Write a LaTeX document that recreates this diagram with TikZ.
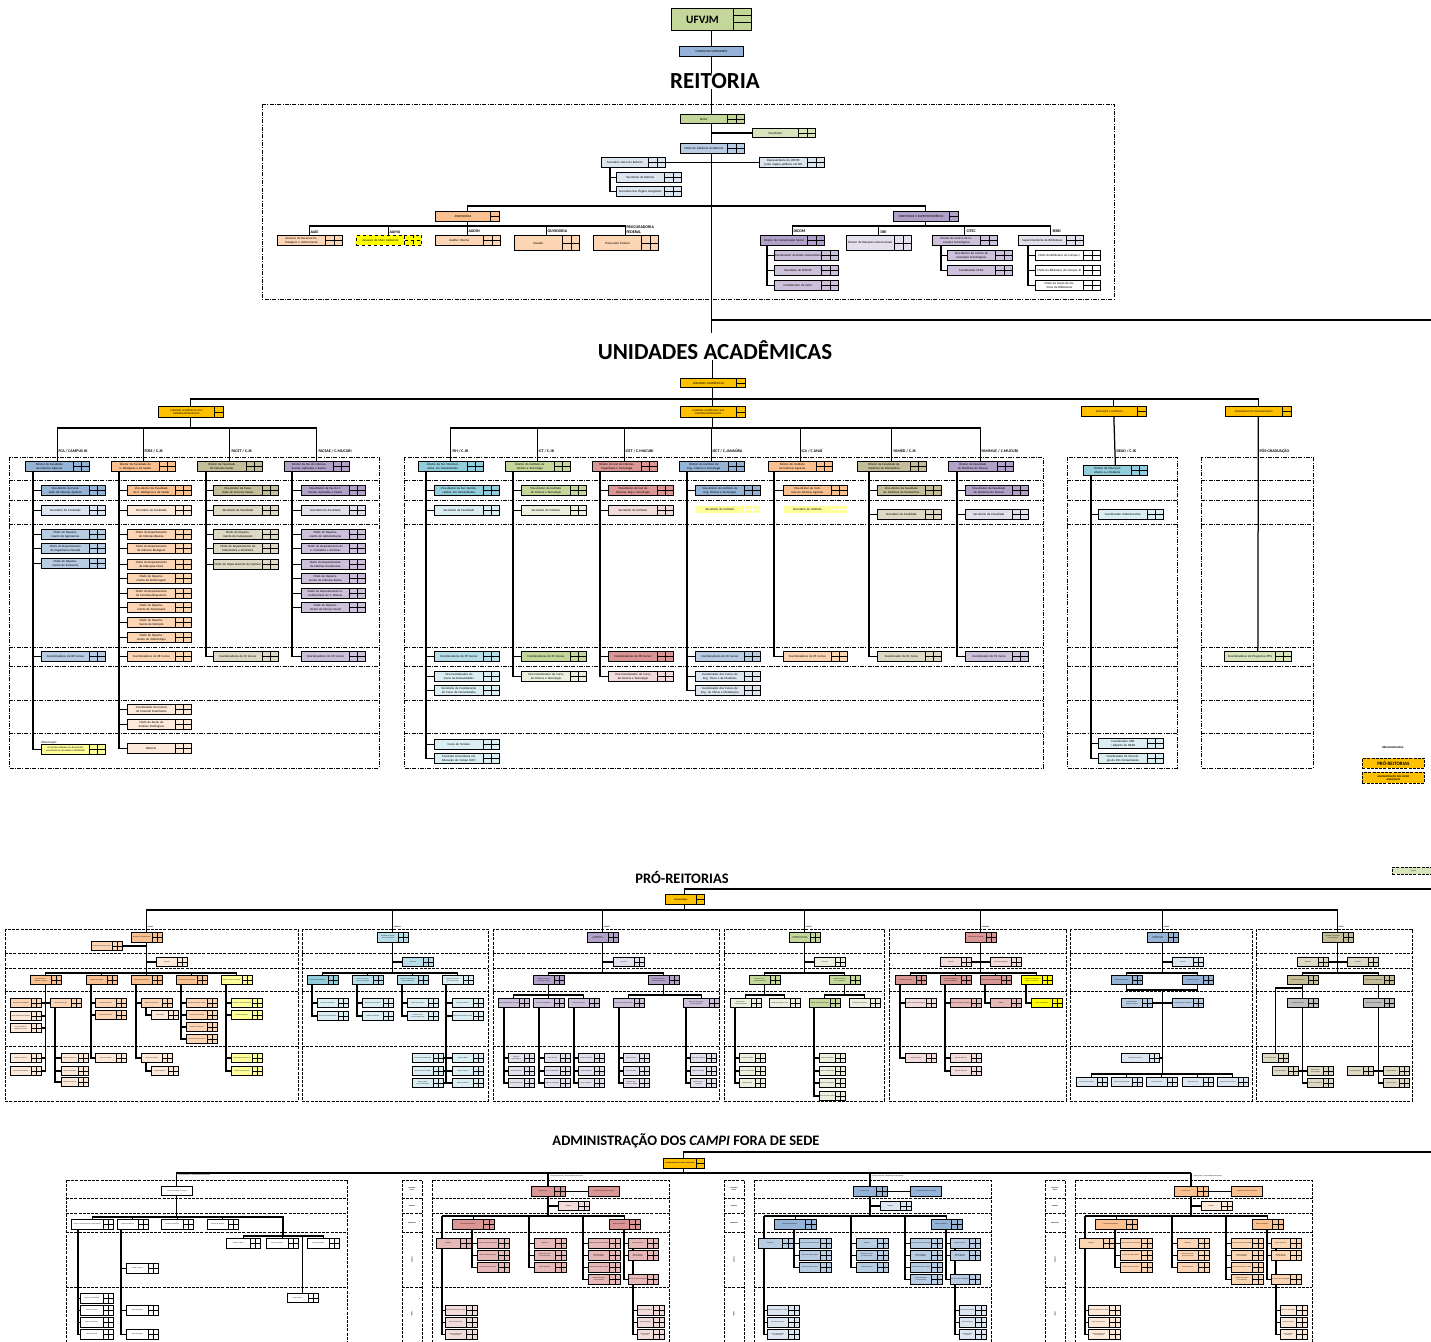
\documentclass[tikz,border=0pt]{standalone}
\usepackage{fontspec}
\setmainfont{Carlito}
\usetikzlibrary{calc}
\pgfdeclarelayer{bg}
\pgfsetlayers{bg,main}
\definecolor{gold}{HTML}{FFC000}
\definecolor{blue1}{HTML}{95B3D7}
\definecolor{blue2}{HTML}{B8CCE4}
\definecolor{blue3}{HTML}{DCE6F1}
\definecolor{org1}{HTML}{FAC090}
\definecolor{org2}{HTML}{FCD5B4}
\definecolor{org3}{HTML}{FDE9D9}
\definecolor{oli1}{HTML}{C4BD97}
\definecolor{oli2}{HTML}{DDD9C4}
\definecolor{pur1}{HTML}{B1A0C7}
\definecolor{pur2}{HTML}{CCC0DA}
\definecolor{pur3}{HTML}{E4DFEC}
\definecolor{tur1}{HTML}{92CDDC}
\definecolor{tur2}{HTML}{B7DEE8}
\definecolor{tur3}{HTML}{DAEEF3}
\definecolor{grn1}{HTML}{C4D79B}
\definecolor{grn2}{HTML}{D8E4BC}
\definecolor{grn3}{HTML}{EBF1DE}
\definecolor{red1}{HTML}{DA9694}
\definecolor{red2}{HTML}{E6B8B7}
\definecolor{red3}{HTML}{F2DCDB}
\definecolor{yel1}{HTML}{FFFF99}
\definecolor{yel2}{HTML}{FFFF00}
\definecolor{gry1}{HTML}{BFBFBF}
\def\FS{\fontsize{3.1}{3.6}\selectfont}
\def\GW{16}
\def\GO{9}
\tikzset{
 bx/.style={draw,line width=0.9pt,inner xsep=0.4pt,inner ysep=0.2pt,align=center,font=\FS},
 gl/.style={line width=0.7pt},
 cn/.style={line width=1.25pt},
 dd/.style={line width=0.9pt,dash pattern=on 4pt off 1.3pt on 1pt off 1.3pt},
 dsh/.style={line width=0.8pt,dash pattern=on 3pt off 1.2pt},
 lbl/.style={font=\bfseries\fontsize{4}{4.4}\selectfont,inner sep=0.3pt,align=left},
 ttl/.style={font=\bfseries\fontsize{23}{25}\selectfont,inner sep=0pt},
 ttm/.style={font=\bfseries\fontsize{14.5}{16}\selectfont,inner sep=0pt},
 sl/.style={font=\bfseries\fontsize{1.5}{1.8}\selectfont,inner sep=0.2pt,align=center},
 tl/.style={font=\fontsize{1.5}{1.8}\selectfont,inner sep=0.2pt,anchor=south west},
 pl/.style={font=\bfseries\fontsize{1.7}{2}\selectfont,inner sep=0.2pt,anchor=south west},
}
\newcommand\allc{}
\newcommand\Cn[1]{\xdef\allc{\unexpanded\expandafter{\allc}\unexpanded{\draw[cn]}#1;}}
\newcommand\Bx[7][]{%
 \node[bx,fill=#6,minimum width=#4pt,minimum height=#5pt,text width=#4pt,anchor=north west,#1] (#2) at (#3) {#7};
 \draw[bx,fill=#6,#1] (#2.north east) rectangle ([xshift=\GW]#2.south east);
 \draw[gl,#1] ([xshift=\GW/2]#2.north east) -- ([xshift=\GW/2]#2.south east) (#2.east) -- ([xshift=\GW]#2.east);
 \path ([xshift=\GW/2]#2.north) coordinate (#2T) ([xshift=\GW/2]#2.south) coordinate (#2B) ([xshift=\GW]#2.east) coordinate (#2R);}
\newcommand\Bo[7][]{%
 \node[bx,fill=#6,minimum width=#4pt,minimum height=#5pt,text width=#4pt,anchor=north west,#1] (#2) at (#3) {#7};
 \draw[bx,fill=#6,#1] (#2.north east) rectangle ([xshift=\GO]#2.south east);
 \draw[gl,#1] (#2.east) -- ([xshift=\GO]#2.east);
 \path ([xshift=\GO/2]#2.north) coordinate (#2T) ([xshift=\GO/2]#2.south) coordinate (#2B);}
\newcommand\Sb[5][]{\Bx[#1]{#2}{#3}{20}{9}{#4}{#5}}
\newcommand\Ub[4]{\Bx{#1}{#2}{47}{10}{#3}{#4}}
\newcommand\Tr[3]{\Cn{([xshift=#2]#1.south west) |- (#3.west)}}
\newcommand\Dw[2]{\Cn{(#1T) -- (#1T |- 0,#2)}}
\newcommand\Br[3]{\Cn{(#2T) -- (#2T |- 0,#1) -- (#3T |- 0,#1) -- (#3T)}}
\newcommand\Camp[5]{%
 \draw[dsh] (402,1180) rectangle (422,1342);
 \draw[dsh] (432,1180) rectangle (669,1342);
 \foreach \yy in {1198,1213,1232,1287}{\draw[dsh] (402,\yy) -- (422,\yy); \draw[dsh] (432,\yy) -- (669,\yy);}
 \node[sl] (#1l1) at (412,1189) {DIRETORIA\\GERAL};
 \node[sl] (#1l2) at (412,1205.5) {GABINETE};
 \node[sl] (#1l3) at (412,1222.5) {DIRETORIAS};
 \node[sl,rotate=90] (#1l4) at (412,1260) {DIVISÕES};
 \node[sl,rotate=90] (#1l5) at (412,1314) {SEÇÕES};
 \node[tl] (#1tl) at (550,1176.5) {#5};
 \coordinate (#1k) at (548,1173);
 \def\GW{11}
 \Bx{#1dg}{531,1186}{22}{10}{#2}{Diretor Geral}
 \node[bx,fill=#2,minimum width=31pt,minimum height=10pt,text width=30pt,anchor=north west] (#1cc) at (588,1186) {Conselho Consultivo do Campus};
 \Cn{(#1dgR) -- (#1cc.west)}
 \Bx{#1gb}{558,1201}{19}{9}{#4}{Gabinete}
 \Cn{(#1k) -- (#1k |- 0,1216)}
 \Cn{(#1gb.west) -- (#1gb.west -| #1k)}
 \Bx{#1d1}{452,1219}{30}{10}{#2}{Diretoria Administrativa}
 \Bx{#1d2}{609,1219}{19}{10}{#2}{Diretoria Acadêmica}
 \coordinate (#1bl) at (442,1216);
 \Cn{(#1bl) -- (#1d2T |- 0,1216)}
 \Dw{#1d1}{1216} \Dw{#1d2}{1216}
 \Bx{#1a1}{436,1238}{23}{10}{#3}{Prefeitura}
 \Cn{(#1bl) -- (#1bl |- #1a1.north)}
 \Bx{#1b1}{477,1238}{20}{10}{#3}{Divisão de Gestão de Pessoas}
 \Bx{#1b2}{477,1250}{20}{10}{#3}{Divisão de Apoio Logístico}
 \Bx{#1b3}{477,1262}{20}{10}{#3}{Divisão de Serviços Gerais}
 \Tr{#1d1}{20}{#1b1} \Tr{#1d1}{20}{#1b2} \Tr{#1d1}{20}{#1b3}
 \coordinate (#1cx) at (529,1216);
 \Bx{#1c1}{534,1238}{20}{10}{#3}{Biblioteca}
 \Bx{#1c2}{534,1250}{20}{10}{#3}{Divisão de Tecnologia da Informação}
 \Bx{#1c3}{534,1262}{20}{10}{#3}{Divisão Financeira}
 \Cn{(#1cx) |- (#1c1.west)} \Cn{(#1cx) |- (#1c2.west)} \Cn{(#1cx) |- (#1c3.west)}
 \coordinate (#1dx) at (583,1216);
 \Bx{#1e1}{588,1238}{20}{10}{#3}{Divisão de Assuntos Estudantis}
 \Bx{#1e2}{588,1250}{20}{10}{#3}{Divisão de Assuntos Comunitários}
 \Bx{#1e3}{588,1262}{20}{10}{#3}{Divisão de Extensão e Cultura}
 \Bx{#1e4}{588,1274}{20}{10}{#3}{Divisão de Pesquisa e Pós-Graduação}
 \Cn{(#1dx) |- (#1e1.west)} \Cn{(#1dx) |- (#1e2.west)} \Cn{(#1dx) |- (#1e3.west)} \Cn{(#1dx) |- (#1e4.west)}
 \Bx{#1g1}{628,1238}{18}{10}{#3}{Divisão de Ensino}
 \Bx{#1g2}{628,1250}{18}{10}{#3}{Divisão de Registro Acadêmico}
 \Bx{#1g3}{628,1274}{18}{10}{#3}{Divisão de Apoio Pedagógico}
 \Tr{#1d2}{15}{#1g1} \Tr{#1d2}{15}{#1g2} \Tr{#1d2}{15}{#1g3}
 \Bx{#1f1}{445,1305}{20}{10}{#4}{Seção de Manutenção e Obras}
 \Bx{#1f2}{445,1317}{20}{10}{#4}{Seção de Transportes}
 \Bx{#1f3}{445,1329}{20}{10}{#4}{Seção de Patrimônio e Almoxarifado}
 \Tr{#1a1}{6}{#1f1} \Tr{#1a1}{6}{#1f2} \Tr{#1a1}{6}{#1f3}
 \Bx{#1h1}{637,1305}{15}{10}{#4}{Seção de Laboratórios}
 \Bx{#1h2}{637,1317}{15}{10}{#4}{Seção de Estágios}
 \Bx{#1h3}{637,1329}{15}{10}{#4}{Seção de Apoio ao Ensino}
 \Tr{#1g1}{5}{#1h1} \Tr{#1g1}{5}{#1h2} \Tr{#1g1}{5}{#1h3}
}
\begin{document}
\begin{tikzpicture}[x=1pt,y=-1pt]
\useasboundingbox (0,0) rectangle (1431,1341);
% ================= TOP =================
\node[bx,fill=grn1,minimum width=62pt,minimum height=22pt,anchor=north west,font=\bfseries\fontsize{11.3}{12}\selectfont] (ufvjm) at (671,8) {UFVJM};
\draw[bx,fill=grn1] (ufvjm.north east) rectangle ([xshift=18]ufvjm.south east);
\draw[gl] ([yshift=-7.4]ufvjm.north east) -- ([yshift=-7.4,xshift=18]ufvjm.north east) ([yshift=-14.8]ufvjm.north east) -- ([yshift=-14.8,xshift=18]ufvjm.north east);
\path ([xshift=9]ufvjm.south) coordinate (ufvjmB);
\node[bx,fill=blue1,minimum width=64pt,minimum height=10pt,anchor=north west] (cons) at (679,46) {CONSELHOS SUPERIORES};
\Cn{(ufvjmB) -- (ufvjmB |- cons.north)}
\node[ttl] (reit) at (715,81) {REITORIA};
\Cn{(cons.south) -- (cons.south |- reit.north)}
\coordinate (uaA) at (711.4,333);
\coordinate (rr1) at (1431,320);
\Cn{(uaA |- reit.south) -- (uaA)}
\Cn{(uaA |- rr1) -- (rr1)}
\draw[dd] (262,104) rectangle (1114,299);
\def\GW{17}
\Bx{reitor}{680,114}{46}{9}{grn1}{Reitor}
\Bx{vice}{752,128}{45}{9}{grn2}{Vice-Reitor}
\Cn{(vice.west) -- (vice.west -| uaA)}
\Bx{chg}{680,143}{46}{10}{blue2}{Chefe do Gabinete da Reitoria}
\Bx{secg}{601,157}{46}{10}{blue3}{Secretário Geral da Reitoria}
\Bx{rep}{759,157}{47}{10}{blue3}{Representante da UFVJM junto órgãos públicos em BH}
\Cn{(secgR) -- (rep.west)}
\Bx{secr}{616,172}{47}{10}{blue3}{Secretário da Reitoria}
\Bx{seco}{616,186}{47}{10}{blue3}{Secretaria dos Órgãos Colegiados}
\Tr{secg}{9}{secr} \Tr{secg}{9}{seco}
\Bo{ass}{435,211}{54}{10}{org1}{ASSESSORIAS}
\Bo{dirs}{893,211}{55}{10}{pur1}{DIRETORIAS E SUPERINTENDÊNCIA}
\Cn{(assT) -- (assT |- 0,206) -- (dirsT |- 0,206) -- (dirsT)}
\Bx{aaei}{277,235}{47}{10}{org2}{Assessor de Recursos Estratégicos e Institucionais}
\Bx[dashed]{aama}{356,235}{47}{10}{yel2}{Assessor de Meio Ambiente}
\Bx{audin}{435,235}{47}{10}{org2}{Auditor Interno}
\Bx{ouv}{514,235}{47}{15}{org2}{Ouvidor}
\Bx{proc}{593,235}{47}{15}{org2}{Procurador Federal}
\Cn{(assB) -- (assB |- 0,226)}
\Br{226}{aaei}{proc} \Dw{aama}{226} \Dw{audin}{226} \Dw{ouv}{226}
\node[lbl,anchor=south west] (laaei) at (310,233.5) {AAEI};
\node[lbl,anchor=south west] (laama) at (389,233.5) {AAMA};
\node[lbl,anchor=south west] (laudin) at (468,233.5) {AUDIN};
\node[lbl,anchor=south west] (louv) at (547,233.5) {OUVIDORIA};
\node[lbl,anchor=south west] (lproc) at (626,233.5) {PROCURADORIA\\FEDERAL};
\Bx{dicom}{760,235}{46}{10}{pur1}{Diretor de Comunicação Social}
\Bx{dri}{846,235}{47}{15}{pur3}{Diretor de Relações Internacionais}
\Bx{citec}{932,235}{47}{10}{pur2}{Diretor do Centro de Inovações Tecnológicas}
\Bx{sisbi}{1018,235}{47}{10}{pur3}{Superintendente de Bibliotecas}
\Cn{(dirsB) -- (dirsB |- 0,226)}
\Br{226}{dicom}{sisbi} \Dw{dri}{226} \Dw{citec}{226}
\node[lbl,anchor=south west] (ldicom) at (793,233.5) {DICOM};
\node[lbl,anchor=south west] (ldri) at (880,233.5) {DRI};
\node[lbl,anchor=south west] (lcitec) at (966,233.5) {CITEC};
\node[lbl,anchor=south west] (lsisbi) at (1052,233.5) {SISBI};
\Bx{dc1}{774,250}{46}{10}{pur2}{Coordenador da Rádio Universitária}
\Bx{dc2}{774,265}{46}{10}{pur2}{Secretário do DICOM}
\Bx{dc3}{774,280}{46}{10}{pur2}{Coordenador de Setor}
\Tr{dicom}{7}{dc1} \Tr{dicom}{7}{dc2} \Tr{dicom}{7}{dc3}
\Bx{ci1}{947,250}{47}{10}{pur2}{Vice-Diretor do Centro de Inovações Tecnológicas}
\Bx{ci2}{947,265}{47}{10}{pur2}{Coordenador NITec}
\Tr{citec}{9}{ci1} \Tr{citec}{9}{ci2}
\Bx{sb1}{1035,250}{47}{10}{white}{Chefe da Biblioteca do Campus I}
\Bx{sb2}{1035,265}{47}{10}{white}{Chefe da Biblioteca do Campus JK}
\Bx{sb3}{1035,280}{47}{10}{white}{Chefe da Seção de Sistema de Bibliotecas}
\Tr{sisbi}{10}{sb1} \Tr{sisbi}{10}{sb2} \Tr{sisbi}{10}{sb3}
% ================= UNIDADES =================
\node[ttl] (uat) at (715,350) {UNIDADES ACADÊMICAS};
\Bo{ua}{680,378}{55}{9}{gold}{UNIDADES ACADÊMICAS}
\Cn{(uaT |- uat.south) -- (uaT)}
\Bo[font=\fontsize{2.6}{3}\selectfont]{com}{158,406}{55}{11}{gold}{UNIDADES ACADÊMICAS COM DEPARTAMENTALIZAÇÃO}
\Bo[font=\fontsize{2.6}{3}\selectfont]{sem}{680,406}{55}{11}{gold}{UNIDADES ACADÊMICAS SEM DEPARTAMENTALIZAÇÃO}
\Bo[font=\fontsize{2.6}{3}\selectfont]{ead}{1081,406}{55}{10}{gold}{EDUCAÇÃO A DISTÂNCIA}
\Bo[font=\fontsize{2.6}{3}\selectfont]{pos}{1225,406}{56}{10}{gold}{PROGRAMAS DE PÓS-GRADUAÇÃO}
\Cn{(uaB) -- (semT)}
\Br{399}{com}{pos} \Dw{ead}{399}
\draw[dd] (9,457) rectangle (379,768);
\draw[dd] (404,457) rectangle (1043,768);
\draw[dd] (1067,457) rectangle (1177,768);
\draw[dd] (1201,457) rectangle (1313,768);
\foreach \yy in {480,500,524,647,666,700,733}{
 \draw[dd] (9,\yy) -- (379,\yy); \draw[dd] (404,\yy) -- (1043,\yy);
 \draw[dd] (1067,\yy) -- (1177,\yy); \draw[dd] (1201,\yy) -- (1313,\yy);}
\def\GW{16}
\Bx{fca}{25,461}{47}{10}{blue1}{Diretor da Faculdade de Ciências Agrárias}
\Bx{fcbs}{111,461}{47}{10}{org1}{Diretor da Faculdade de C. Biológicas e da Saúde}
\Bx{facet}{197,461}{48}{10}{oli1}{Diretor da Faculdade de Ciências Exatas}
\Bx{facsae}{284,461}{48}{10}{pur1}{Diretor da Fac de Ciências Sociais, Aplicadas e Exatas}
\Cn{(comB) -- (comB |- 0,428)}
\Br{428}{fca}{facsae} \Dw{fcbs}{428} \Dw{facet}{428}
\node[lbl,anchor=south west] (lfca) at (58,453.5) {FCA / CAMPUS JK};
\node[lbl,anchor=south west] (lfcbs) at (144,453.5) {FCBS / C.JK};
\node[lbl,anchor=south west] (lfacet) at (231,453.5) {FACET / C.JK};
\node[lbl,anchor=south west] (lfacsae) at (318,453.5) {FACSAE / C.MUCURI};
\Ub{fca1}{41,485}{blue1}{Vice-diretor da Faculdade de Ciências Agrárias}
\Ub{fca2}{41,505}{blue3}{Secretário da Faculdade}
\Ub{fca3}{41,529}{blue2}{Chefe do Departamento de Agronomia}
\Ub{fca4}{41,543}{blue2}{Chefe do Departamento de Engenharia Florestal}
\Ub{fca5}{41,558}{blue2}{Chefe do Departamento de Zootecnia}
\Ub{fca6}{41,651}{blue2}{Coordenadores de 08 Cursos}
\Bx[font=\fontsize{2.5}{3}\selectfont]{fca7}{41,744}{47}{10}{yel1}{As funções listadas nos Escaninhos encontram-se vinculadas à PROGRAD}
\node[font=\FS,anchor=south west,inner sep=0.2pt] (obs) at (41,744) {Observação:};
\foreach \n in {1,...,7}{\Tr{fca}{8}{fca\n}}
\Ub{fcbs1}{127,485}{org1}{Vice-diretor da Faculdade de C. Biológicas e da Saúde}
\Ub{fcbs2}{127,505}{org3}{Secretário da Faculdade}
\Ub{fcbs3}{127,529}{org2}{Chefe do Departamento de Ciências Básicas}
\Ub{fcbs4}{127,543}{org2}{Chefe do Departamento de Ciências Biológicas}
\Ub{fcbs5}{127,559}{org2}{Chefe do Departamento de Educação Física}
\Ub{fcbs6}{127,573}{org2}{Chefe do Departamento de Enfermagem}
\Ub{fcbs7}{127,588}{org2}{Chefe do Departamento de Farmácia-Bioquímica}
\Ub{fcbs8}{127,602}{org2}{Chefe do Departamento de Fisioterapia}
\Ub{fcbs9}{127,617}{org2}{Chefe do Departamento de Nutrição}
\Ub{fcbs10}{127,632}{org2}{Chefe do Departamento de Odontologia}
\Ub{fcbs11}{127,651}{org2}{Coordenadores de 08 Cursos}
\Ub{fcbs12}{127,704}{org3}{Coordenador da Central de Material Esterilizado}
\Ub{fcbs13}{127,719}{org3}{Chefe da Seção de Análises Patológicas}
\Ub{fcbs14}{127,743}{org3}{Biotério}
\foreach \n in {1,...,14}{\Tr{fcbs}{8}{fcbs\n}}
\Bx{facet1}{213,485}{48}{10}{oli1}{Vice-diretor da Faculdade de Ciências Exatas}
\Bx{facet2}{213,505}{48}{10}{oli2}{Secretário da Faculdade}
\Bx{facet3}{213,529}{48}{10}{oli2}{Chefe do Departamento de Computação}
\Bx{facet4}{213,543}{48}{10}{oli2}{Chefe do Departamento de Matemática e Estatística}
\Bx{facet5}{213,559}{48}{10}{oli2}{Chefe do Departamento de Química}
\Bx{facet6}{213,651}{48}{10}{oli2}{Coordenadores de 02 Cursos}
\foreach \n in {1,...,6}{\Tr{facet}{9}{facet\n}}
\Ub{facsae1}{301,485}{pur1}{Vice-diretor da Fac de C. Sociais, Aplicadas e Exatas}
\Ub{facsae2}{301,505}{pur3}{Secretária da Faculdade}
\Ub{facsae3}{301,529}{pur2}{Chefe do Departamento de Administração}
\Ub{facsae4}{301,543}{pur2}{Chefe do Departamento de C. Contábeis e Jurídicas}
\Ub{facsae5}{301,559}{pur2}{Chefe do Departamento de Ciências Econômicas}
\Ub{facsae6}{301,573}{pur2}{Chefe do Departamento de Ciências Exatas}
\Ub{facsae7}{301,588}{pur2}{Chefe do Departamento Interdisciplinar de C. Básicas}
\Ub{facsae8}{301,602}{pur2}{Chefe do Departamento de Serviço Social}
\Ub{facsae9}{301,651}{pur2}{Coordenadores de 05 Cursos}
\foreach \n in {1,...,9}{\Tr{facsae}{8}{facsae\n}}
% middle
\Bx{fih}{418,461}{48}{10}{tur1}{Diretor da Fac Interdisciplinar em Humanidades}
\Bx{ict}{505,461}{48}{10}{grn1}{Diretor do Instituto de Ciência e Tecnologia}
\Bx{icet}{592,461}{48}{10}{red1}{Diretor do Inst de Ciências, Engenharia e Tecnologia}
\Bx{iect}{679,461}{48}{10}{blue1}{Diretor do Instituto de Eng., Ciência e Tecnologia}
\Bx{ica}{768,461}{47}{10}{org1}{Diretor do Instituto de Ciências Agrárias}
\Bx{famed}{857,461}{52}{10}{oli1}{Diretor da Faculdade de Medicina de Diamantina}
\Bx{fammuc}{948,461}{48}{10}{pur1}{Diretor da Faculdade de Medicina do Mucuri}
\Cn{(semB) -- (semB |- 0,428)}
\Br{428}{fih}{fammuc} \Dw{ict}{428} \Dw{icet}{428} \Dw{iect}{428} \Dw{ica}{428} \Dw{famed}{428}
\node[lbl,anchor=south west] (lfih) at (452,453.5) {FIH / C.JK};
\node[lbl,anchor=south west] (lict) at (538,453.5) {ICT / C.JK};
\node[lbl,anchor=south west] (licet) at (625,453.5) {ICET / C.MUCURI};
\node[lbl,anchor=south west] (liect) at (712,453.5) {IECT / C.JANAÚBA};
\node[lbl,anchor=south west] (lica) at (801,453.5) {ICA / C.UNAÍ};
\node[lbl,anchor=south west] (lfamed) at (893,453.5) {FAMED / C.JK};
\node[lbl,anchor=south west] (lfammuc) at (981,453.5) {FAMMUC / C.MUCURI};
\Bx{fih1}{434,485}{48}{10}{tur1}{Vice-diretor da Fac Interdisciplinar em Humanidades}
\Bx{fih2}{434,505}{48}{10}{tur3}{Secretário da Faculdade}
\Bx{fih3}{434,651}{48}{10}{tur2}{Coordenadores de 09 Cursos}
\Bx{fih4}{434,671}{48}{10}{tur3}{Vice-Coordenador do Curso de Humanidades}
\Bx{fih5}{434,685}{48}{10}{tur3}{Secretário da Coordenação do Curso de Humanidades}
\Bx{fih6}{434,739}{48}{10}{tur3}{Curso de Turismo}
\Bx{fih7}{434,753}{48}{10}{tur3}{Comissão Licenciatura em Educação do Campo (LEC)}
\foreach \n in {1,...,7}{\Tr{fih}{8}{fih\n}}
\Bx{ict1}{521,485}{48}{10}{grn1}{Vice-diretor do Instituto de Ciência e Tecnologia}
\Bx{ict2}{521,505}{48}{10}{grn3}{Secretário do Instituto}
\Bx{ict3}{521,651}{48}{10}{grn1}{Coordenadores de 05 Cursos}
\Bx{ict4}{521,671}{48}{10}{grn3}{Vice-Coordenador do Curso de Ciência e Tecnologia}
\foreach \n in {1,...,4}{\Tr{ict}{8}{ict\n}}
\Bx{icet1}{608,485}{48}{10}{red1}{Vice-diretor do Inst de Ciências, Eng e Tecnologia}
\Bx{icet2}{608,505}{48}{10}{red3}{Secretário do Instituto}
\Bx{icet3}{608,651}{48}{10}{red1}{Coordenadores de 08 Cursos}
\Bx{icet4}{608,671}{48}{10}{red3}{Vice-Coordenador do Curso de Ciência e Tecnologia}
\foreach \n in {1,...,4}{\Tr{icet}{8}{icet\n}}
\Bx{iect1}{695,485}{48}{10}{blue1}{Vice-diretor do Instituto de Eng, Ciência e Tecnologia}
\Bx[draw=white]{iect2}{695,505}{48}{8}{yel1}{Secretário do Instituto}
\Bx{iect3}{695,651}{48}{10}{blue2}{Coordenadores de 06 Cursos}
\Bx{iect4}{695,671}{48}{10}{blue3}{Coordenador dos Cursos de Eng. Física e de Materiais}
\Bx{iect5}{695,685}{48}{10}{blue3}{Coordenador dos Cursos de Eng. de Minas e Metalúrgica}
\foreach \n in {1,3,4,5}{\Tr{iect}{8}{iect\n}}
\Bx{ica1}{783,485}{47}{10}{org1}{Vice-diretor do Instituto de Ciências Agrárias}
\Bx[draw=white]{ica2}{783,505}{47}{8}{yel1}{Secretário do Instituto}
\Bx{ica3}{783,651}{47}{10}{org2}{Coordenadores de 05 Cursos}
\Tr{ica}{6}{ica1} \Tr{ica}{6}{ica3}
\Bx{famed1}{877,485}{47}{10}{oli1}{Vice-diretor da Faculdade de Medicina de Diamantina}
\Bx{famed2}{877,509}{47}{10}{oli2}{Secretário da Faculdade}
\Bx{famed3}{877,651}{47}{10}{oli2}{Coordenador de 01 Curso}
\foreach \n in {1,2,3}{\Tr{famed}{12}{famed\n}}
\Bx{fammuc1}{965,485}{46}{10}{pur1}{Vice-diretor da Faculdade de Medicina do Mucuri}
\Bx{fammuc2}{965,509}{46}{10}{pur3}{Secretário da Faculdade}
\Bx{fammuc3}{965,651}{46}{10}{pur2}{Coordenador de 01 Curso}
\foreach \n in {1,2,3}{\Tr{fammuc}{9}{fammuc\n}}
% EAD and PPG
\Bx{dead}{1083,465}{47}{10}{tur1}{Diretor de Educação Aberta e a Distância}
\Cn{(eadB) -- (deadT)}
\node[lbl,anchor=south west] (ldead) at (1116,453.5) {DEAD / C.JK};
\Bx{dead1}{1098,509}{48}{10}{tur3}{Coordenador Administrativo}
\Bx{dead2}{1098,738}{48}{10}{tur3}{Coordenador UAB / Adjunto do DEAD}
\Bx{dead3}{1098,753}{48}{10}{tur3}{Coordenador de Tecnologia da Info Comunicação}
\foreach \n in {1,2,3}{\Tr{dead}{8}{dead\n}}
\Bx{ppg}{1224,651}{50}{10}{grn2}{Coordenadores de Programas PPG}
\Cn{(posB) -- (ppgT)}
\node[lbl,anchor=south west] (lpos) at (1259,453.5) {PÓS-GRADUAÇÃO};
% legend
\node[lbl,font=\bfseries\fontsize{2.8}{3.2}\selectfont] (orgl) at (1393,748) {ORGANOGRAMAS:};
\node[draw,dsh,fill=gold,minimum width=62pt,minimum height=10pt,anchor=north west,inner sep=0pt,font=\bfseries\fontsize{5}{5.5}\selectfont] (lg1) at (1362,758) {PRÓ-REITORIAS};
\node[draw,dsh,fill=gold,minimum width=62pt,minimum height=11pt,anchor=north west,inner sep=0pt,align=center,font=\bfseries\fontsize{2.6}{3}\selectfont] (lg2) at (1362,772) {ADMINISTRAÇÃO DOS CAMPI\\AVANÇADOS};
\node[draw,dsh,fill=grn2,minimum width=42pt,minimum height=7pt,anchor=north west,inner sep=0pt,font=\fontsize{1.6}{2}\selectfont] (lg3) at (1392,867) {Legenda};
% ================= PRO-REITORIAS =================
\node[ttm] (prt) at (682,877) {PRÓ-REITORIAS};
\def\GO{8}
\coordinate (pr0) at (1431,889);
\Bo[font=\bfseries\fontsize{2}{2.4}\selectfont]{prb}{665,894}{30}{10}{gold}{PRÓ-REITORIAS}
\Cn{(pr0) -| (prbT)}
\Cn{(prbB) -- (prbB |- 0,910)}
\foreach \a/\b in {5/298,302/488,493/719,724/884,889/1066,1070/1252,1256/1412}{
 \draw[dsh] (\a,929) rectangle (\b,1101);
 \foreach \yy in {953,968,991,1046}{\draw[dsh] (\a,\yy) -- (\b,\yy);}}
\def\GW{10}
\def\FS{\fontsize{1.5}{1.8}\selectfont}
\Bx{p1}{131,932}{20}{10}{org1}{Pró-Reitor de Administração}
\Bx{p2}{377,932}{20}{10}{tur2}{Pró-Reitor de Planejamento e Orçamento}
\Bx{p3}{587,932}{20}{10}{pur1}{Pró-Reitor de Gestão de Pessoas}
\Bx{p4}{789,932}{20}{10}{grn1}{Pró-Reitor de Assuntos Comunitários e Estudantis}
\Bx{p5}{965,932}{20}{10}{red1}{Pró-Reitor de Graduação}
\Bx{p6}{1147,932}{20}{10}{blue1}{Pró-Reitor de Extensão e Cultura}
\Bx{p7}{1322,932}{20}{10}{oli1}{Pró-Reitor de Pesquisa e Pós-Graduação}
\Br{910}{p1}{p7} \Dw{p2}{910} \Dw{p3}{910} \Dw{p4}{910} \Dw{p5}{910} \Dw{p6}{910}
\node[pl] (lp1) at (147.5,928) {PROAD};
\node[pl] (lp2) at (393.5,928) {PROPLAN};
\node[pl] (lp3) at (603.5,928) {PROGEP};
\node[pl] (lp4) at (805.5,928) {PROACE};
\node[pl] (lp5) at (981.5,928) {PROGRAD};
\node[pl] (lp6) at (1163.5,928) {PROEXC};
\node[pl] (lp7) at (1338.5,928) {PRPPG};
% S1
\Sb{p1a}{91,941}{org2}{Divisão de Assessoria Técnica}
\Cn{(p1aR) -- (p1aR -| p1B)}
\Sb{p1s}{156,957}{org3}{Secretaria}
\Cn{(p1s.west) -- (p1s.west -| p1B)}
\Cn{(p1B) -- (p1B |- 0,973)}
\Sb{p1d1}{30,975}{org1}{Diretoria de Contabilidade e Finanças}
\Sb{p1d2}{86,975}{org1}{Diretoria de Logística}
\Sb{p1d3}{131,975}{org1}{Diretoria de Patrimônio}
\Sb{p1d4}{176,975}{org1}{Diretoria de Infraestrutura}
\Sb{p1d5}{221,975}{yel1}{Diretoria de Meio Ambiente}
\Br{973}{p1d1}{p1d5} \Dw{p1d2}{973} \Dw{p1d3}{973} \Dw{p1d4}{973}
\Sb{p1c1}{10,998}{org2}{Divisão de Contabilidade}
\Sb{p1c2}{10,1011}{org3}{Seção de Registros Contábeis}
\Sb{p1c3}{10,1023}{org3}{Seção de Análise e Prestação de Contas}
\Sb{p1c4}{10,1053}{org3}{Seção de Tesouraria}
\Sb{p1c5}{10,1066}{org3}{Seção de Conformidade}
\foreach \n in {1,...,5}{\Cn{(p1d1B) |- (p1c\n R)}}
\Sb{p1c6}{50,998}{org2}{Divisão de Finanças}
\Cn{(p1c1R) -- (p1c6.west)}
\Bx{p1c7}{61,1053}{16}{9}{org3}{Seção de Pagamentos}
\Bx{p1c8}{61,1066}{16}{9}{org3}{Seção de Liquidação}
\Bx{p1c9}{61,1077}{16}{9}{org3}{Seção de Conciliação}
\foreach \n in {7,8,9}{\Tr{p1c6}{5}{p1c\n}}
\Sb{p1g1}{95,998}{org2}{Divisão de Compras}
\Sb{p1g2}{95,1010}{org2}{Divisão de Contratos}
\Sb{p1g3}{95,1053}{org3}{Seção de Cadastro}
\foreach \n in {1,2,3}{\Tr{p1d2}{5}{p1g\n}}
\Sb{p1h1}{141,998}{org2}{Divisão de Patrimônio}
\Bx{p1h2}{151,1010}{16}{9}{org3}{Almoxarifado}
\Sb{p1h3}{141,1053}{org3}{Seção de Inventário}
\Bx{p1h4}{151,1066}{16}{9}{org3}{Seção de Registro}
\Tr{p1d3}{5}{p1h1} \Tr{p1h1}{5}{p1h2} \Tr{p1d3}{5}{p1h3} \Tr{p1h3}{5}{p1h4}
\Sb{p1i1}{186,998}{org2}{Divisão de Projetos e Obras}
\Sb{p1i2}{186,1010}{org2}{Divisão de Manutenção}
\Sb{p1i3}{186,1022}{org2}{Divisão de Transportes}
\Sb{p1i4}{186,1034}{org2}{Divisão de Serviços Gerais}
\foreach \n in {1,...,4}{\Tr{p1d4}{5}{p1i\n}}
\Sb{p1j1}{231,998}{yel1}{Divisão de Gestão Ambiental}
\Sb{p1j2}{231,1010}{yel1}{Divisão de Resíduos}
\Sb{p1j3}{231,1053}{yel1}{Seção de Recursos Naturais}
\Sb{p1j4}{231,1066}{yel1}{Seção de Licenciamento}
\foreach \n in {1,...,4}{\Tr{p1d5}{5}{p1j\n}}
% S2
\Sb{p2s}{402,957}{tur2}{Secretaria}
\Cn{(p2s.west) -- (p2s.west -| p2B)} \Cn{(p2B) -- (p2B |- 0,973)}
\Sb{p2d1}{307,975}{tur1}{Diretoria de Orçamento}
\Sb{p2d2}{352,975}{tur2}{Diretoria de Planejamento e Avaliação}
\Sb{p2d3}{397,975}{tur2}{Diretoria de Desenvolvimento Institucional}
\Sb{p2d4}{442,975}{tur3}{Diretoria de Tecnologia da Informação}
\Br{973}{p2d1}{p2d4} \Dw{p2d2}{973} \Dw{p2d3}{973}
\Sb{p2e1}{317,998}{tur3}{Divisão de Orçamento}
\Sb{p2e2}{317,1011}{tur3}{Seção de Acompanhamento}
\Tr{p2d1}{5}{p2e1} \Tr{p2d1}{5}{p2e2}
\Sb{p2e3}{362,998}{tur3}{Divisão de Planejamento}
\Sb{p2e4}{362,1011}{tur3}{Divisão de Avaliação}
\Tr{p2d2}{5}{p2e3} \Tr{p2d2}{5}{p2e4}
\Sb{p2e5}{407,998}{tur3}{Divisão de Convênios}
\Sb{p2e6}{407,1011}{tur3}{Divisão de Informações Institucionais}
\Tr{p2d3}{5}{p2e5} \Tr{p2d3}{5}{p2e6}
\Sb{p2e7}{452,998}{tur3}{Divisão de Sistemas}
\Sb{p2e8}{452,1011}{tur3}{Divisão de Infraestrutura de TI}
\Sb{p2e9}{452,1053}{tur3}{Seção de Redes}
\Sb{p2e10}{452,1066}{tur3}{Seção de Suporte}
\Sb{p2e11}{452,1078}{tur3}{Seção de Telefonia}
\foreach \n in {7,...,11}{\Tr{p2d4}{4}{p2e\n}}
\Sb{p2f1}{412,1053}{tur3}{Seção de Desenvolvimento}
\Sb{p2f2}{412,1066}{tur3}{Seção de Banco de Dados}
\Sb{p2f3}{412,1078}{tur3}{Seção de Segurança da Informação}
\foreach \n in {1,2,3}{\Cn{([xshift=4]p2d4.south west) |- (p2f\n R)}}
% S3
\Sb{p3s}{613,957}{pur3}{Secretaria}
\Cn{(p3s.west) -- (p3s.west -| p3B)} \Cn{(p3B) -- (p3B |- 0,973)}
\Sb{p3d1}{533,975}{pur1}{Diretoria de Administração de Pessoal}
\Sb{p3d2}{648,975}{pur1}{Diretoria de Desenvolvimento de Pessoas}
\Br{973}{p3d1}{p3d2}
\Cn{(p3d1B) -- (p3d1B |- 0,995)} \Cn{(p3d2B) -- (p3d2B |- 0,995)}
\Sb{p3e1}{498,998}{pur2}{Divisão de Legislação e Normas}
\Sb{p3e2}{533,998}{pur2}{Divisão de Pagamento}
\Sb{p3e3}{568,998}{pur2}{Divisão de Cadastro}
\Br{995}{p3e1}{p3e3} \Dw{p3e2}{995}
\Sb{p3e4}{613,998}{pur2}{Divisão de Saúde do Servidor}
\Bx{p3e5}{683,998}{25}{9}{pur2}{Divisão de Capacitação e Desenvolvimento}
\Br{995}{p3e4}{p3e5}
\Bx{p3f1}{508,1053}{15}{9}{pur3}{Seção de Aposentadorias}
\Bx{p3f2}{508,1066}{15}{9}{pur3}{Seção de Pensões}
\Bx{p3f3}{508,1078}{15}{9}{pur3}{Seção de Legislação}
\foreach \n in {1,2,3}{\Tr{p3e1}{6}{p3f\n}}
\Bx{p3f4}{544,1053}{15}{9}{pur3}{Seção de Folha}
\Bx{p3f5}{544,1066}{15}{9}{pur3}{Seção de Benefícios}
\Bx{p3f6}{544,1078}{15}{9}{pur3}{Seção de Conferência}
\foreach \n in {4,5,6}{\Tr{p3e2}{6}{p3f\n}}
\Bx{p3f7}{578,1053}{15}{9}{pur3}{Seção de Cadastro}
\Bx{p3f8}{578,1066}{15}{9}{pur3}{Seção de Registro}
\Bx{p3f9}{578,1078}{15}{9}{pur3}{Seção de Arquivo}
\foreach \n in {7,8,9}{\Tr{p3e3}{6}{p3f\n}}
\Bx{p3f10}{623,1053}{15}{9}{pur3}{Seção de Perícia}
\Bx{p3f11}{623,1066}{15}{9}{pur3}{Seção de Saúde}
\Bx{p3f12}{623,1078}{15}{9}{pur3}{Seção de Segurança do Trabalho}
\foreach \n in {10,11,12}{\Tr{p3e4}{6}{p3f\n}}
\Bx{p3f13}{690,1053}{15}{9}{pur3}{Seção de Capacitação}
\Bx{p3f14}{690,1066}{15}{9}{pur3}{Seção de Avaliação}
\Bx{p3f15}{690,1078}{15}{9}{pur3}{Seção de Movimentação}
\foreach \n in {13,14,15}{\Tr{p3e5}{3}{p3f\n}}
% S4
\Sb{p4s}{814,957}{grn3}{Secretaria}
\Cn{(p4s.west) -- (p4s.west -| p4B)} \Cn{(p4B) -- (p4B |- 0,973)}
\Sb{p4d1}{749,975}{grn1}{Diretoria de Assistência Estudantil}
\Sb{p4d2}{829,975}{grn1}{Diretoria de Assuntos Comunitários}
\Br{973}{p4d1}{p4d2}
\Cn{(p4d1B) -- (p4d1B |- 0,995)} \Cn{(p4d2B) -- (p4d2B |- 0,995)}
\Sb{p4e1}{730,998}{grn3}{Divisão de Assistência Estudantil}
\Sb{p4e2}{769,998}{grn3}{Divisão de Esporte e Lazer}
\Br{995}{p4e1}{p4e2}
\Sb{p4e3}{809,998}{grn1}{Divisão de Atenção à Saúde}
\Sb{p4e4}{849,998}{grn3}{Divisão de Convivência}
\Br{995}{p4e3}{p4e4}
\Bx{p4f1}{739,1053}{15}{9}{grn3}{Seção de Moradia}
\Bx{p4f2}{739,1066}{15}{9}{grn3}{Seção de Alimentação}
\Bx{p4f3}{739,1078}{15}{9}{grn3}{Seção de Bolsas}
\foreach \n in {1,2,3}{\Tr{p4e1}{5}{p4f\n}}
\Bx{p4g1}{819,1053}{15}{9}{grn3}{Seção de Psicologia}
\Bx{p4g2}{819,1066}{15}{9}{grn3}{Seção de Odontologia}
\Bx{p4g3}{819,1078}{15}{9}{grn3}{Seção de Enfermagem}
\Bx{p4g4}{819,1091}{15}{9}{grn3}{Seção de Serviço Social}
\foreach \n in {1,...,4}{\Tr{p4e3}{5}{p4g\n}}
% S5
\Sb{p5s}{940,957}{red3}{Secretaria}
\Sb{p5a}{990,957}{red3}{Assessoria Pedagógica}
\Cn{(p5sR) -- (p5a.west)} \Cn{(p5B) -- (p5B |- 0,973)}
\Sb{p5d1}{895,975}{red1}{Diretoria de Ensino}
\Sb{p5d2}{940,975}{red1}{Diretoria de Registro e Controle Acadêmico}
\Sb{p5d3}{980,975}{red1}{Diretoria de Processos Seletivos}
\Sb{p5d4}{1021,975}{yel2}{Diretoria de Educação Aberta e a Distância}
\Br{973}{p5d1}{p5d4} \Dw{p5d2}{973} \Dw{p5d3}{973}
\Sb{p5e1}{905,998}{red3}{Divisão de Apoio Pedagógico}
\Sb{p5e2}{950,998}{red2}{Divisão de Registro Acadêmico}
\Sb{p5e3}{990,998}{red2}{COPESE}
\Sb{p5e4}{1031,998}{yel2}{UAB / Coordenação}
\Tr{p5d1}{5}{p5e1} \Tr{p5d2}{5}{p5e2} \Tr{p5d3}{5}{p5e3} \Tr{p5d4}{5}{p5e4}
\Sb{p5f1}{905,1053}{red3}{Seção de Estágios}
\Sb{p5f2}{950,1053}{red3}{Seção de Diplomas}
\Sb{p5f3}{950,1066}{red3}{Seção de Matrícula}
\Tr{p5d1}{5}{p5f1} \Tr{p5d2}{5}{p5f2} \Tr{p5d2}{5}{p5f3}
% S6
\Sb{p6s}{1172,957}{blue3}{Secretaria}
\Cn{(p6s.west) -- (p6s.west -| p6B)} \Cn{(p6B) -- (p6B |- 0,973)}
\Sb{p6d1}{1111,975}{blue1}{Diretoria de Extensão}
\Sb{p6d2}{1182,975}{blue1}{Diretoria de Cultura}
\Br{973}{p6d1}{p6d2}
\Cn{(p6d1B) -- (p6d1B |- 0,990) -- (p6d2B |- 0,990) -- (p6d2B)}
\Cn{(p6B |- 0,990) -- (p6B |- 0,1074)}
\Sb{p6e1}{1121,998}{blue2}{Coordenação de Projetos e Eventos}
\Sb{p6e2}{1172,998}{blue2}{Coordenação de Programas}
\Cn{(p6e1R) -- (p6e2.west)}
\Bx{p6f}{1121,1053}{27}{9}{blue3}{Comissão de Extensão}
\Cn{(p6fR) -- (p6fR -| p6B)}
\Sb{p6g1}{1076,1077}{blue3}{Seção de Comunicação}
\Sb{p6g2}{1111,1077}{blue3}{Seção de Documentação}
\Sb{p6g3}{1146,1077}{blue3}{Seção de Eventos}
\Sb{p6g4}{1182,1077}{blue3}{Seção de Cursos}
\Sb{p6g5}{1217,1077}{blue3}{Seção de Apoio Cultural}
\Br{1074}{p6g1}{p6g5} \Dw{p6g2}{1074} \Dw{p6g3}{1074} \Dw{p6g4}{1074}
% S7
\Sb{p7s1}{1297,957}{oli2}{Secretaria}
\Sb{p7s2}{1347,957}{oli2}{Secretaria}
\Cn{(p7s1R) -- (p7s2.west)} \Cn{(p7B) -- (p7B |- 0,973)}
\Sb{p7d1}{1287,975}{oli1}{Diretoria de Pesquisa}
\Sb{p7d2}{1363,975}{oli1}{Diretoria de Pós-Graduação}
\Br{973}{p7d1}{p7d2}
\Sb{p7e1}{1287,998}{gry1}{Divisão de Pesquisa}
\Sb{p7e2}{1363,998}{gry1}{Divisão de Pós-Graduação}
\Cn{(p7d1B) -- (p7e1T)} \Cn{(p7d2B) -- (p7e2T)}
\Bx{p7f1}{1262,1053}{15}{9}{oli2}{Comissão de Ética}
\Cn{(p7f1T) |- (p7d1B |- 0,988)}
\Bx{p7f2}{1272,1066}{15}{9}{oli2}{Seção de Projetos}
\Bx{p7f3}{1307,1066}{15}{9}{oli2}{Seção de Iniciação Científica}
\Bx{p7f4}{1307,1078}{15}{9}{oli2}{Seção de Laboratórios}
\Cn{(p7f2R) -- (p7f3.west)}
\Cn{(p7e1B) |- (p7f4.west)}
\Bx{p7f5}{1347,1066}{15}{9}{oli2}{Seção de Registro}
\Bx{p7f6}{1383,1066}{15}{9}{oli2}{Seção de Bolsas}
\Bx{p7f7}{1383,1078}{15}{9}{oli2}{Seção de Apoio}
\Cn{(p7e2B) |- (p7f5R)} \Cn{(p7e2B) |- (p7f6.west)} \Cn{(p7e2B) |- (p7f7.west)}
% ================= CAMPI =================
\node[ttm] (cat) at (686,1141) {ADMINISTRAÇÃO DOS \textit{CAMPI} FORA DE SEDE};
\coordinate (ca0) at (1431,1152);
\Bo[font=\bfseries\fontsize{1.6}{1.9}\selectfont]{cab}{663,1158}{32}{10}{gold}{ADMINISTRAÇÃO DOS CAMPI AVANÇADOS}
\Cn{(ca0) -| (cabT)}
\Cn{(cabB) -- (cabB |- 0,1173)}
\coordinate (kA) at (176.4,1173);
\coordinate (kZ) at (1191,1173);
\Cn{(kA) -- (kZ)}
% campus 1
\draw[dsh] (66,1180) rectangle (347,1342);
\foreach \yy in {1198,1213,1232,1287}{\draw[dsh] (66,\yy) -- (347,\yy);}
\node[tl] (c1tl) at (178,1176.5) {CAMPI AVANÇADOS -- ORGANOGRAMA DE PESSOAS};
\node[bx,fill=white,minimum width=31pt,minimum height=9pt,text width=30pt,anchor=north west] (c1cc) at (161,1186) {Conselho Consultivo do Campus};
\Cn{(kA) -- (kA |- 0,1217)}
\Bx{c1a}{71,1219}{31}{10}{white}{Diretoria de Administração e Planejamento}
\Bx{c1b}{117,1219}{20}{10}{white}{Diretoria Acadêmica}
\Bx{c1c}{161,1219}{21}{10}{white}{Diretoria de Extensão}
\Bx{c1d}{207,1219}{20}{10}{white}{Diretoria de Pesquisa}
\coordinate (c1x) at (283,1217);
\Cn{(c1aT) -- (c1aT |- 0,1217) -- (c1x) -- (c1x |- 0,1236)}
\Dw{c1b}{1217} \Dw{c1c}{1217} \Dw{c1d}{1217}
\Bx{c1e}{226,1238}{23}{10}{white}{Divisão de Apoio}
\Bx{c1f}{266,1238}{21}{10}{white}{Divisão de Serviços}
\Bx{c1g}{307,1238}{21}{10}{white}{Divisão de Projetos}
\Br{1236}{c1e}{c1g} \Dw{c1f}{1236}
\Sb{c1h}{287,1293}{white}{Seção de Apoio}
\Dw{c1h}{1236}
\Bx{c1l1}{80,1293}{22}{10}{white}{Seção de Contabilidade}
\Bx{c1l2}{80,1305}{22}{10}{white}{Seção de Compras}
\Bx{c1l3}{80,1317}{22}{10}{white}{Seção de Patrimônio}
\Bx{c1l4}{80,1329}{22}{10}{white}{Seção de Pessoal}
\foreach \n in {1,...,4}{\Tr{c1a}{7}{c1l\n}}
\Bx{c1m1}{126,1263}{21}{10}{white}{Divisão de Ensino}
\Bx{c1m2}{126,1305}{21}{10}{white}{Seção de Registro}
\Bx{c1m3}{126,1329}{21}{10}{white}{Seção de Estágios}
\foreach \n in {1,2,3}{\Tr{c1b}{4}{c1m\n}}
\begin{scope}\Camp{ca}{red1}{red2}{red3}{CAMPUS DO MUCURI -- ORGANOGRAMA DE PESSOAS}\end{scope}
\begin{scope}[xshift=322pt]\Camp{cb}{blue1}{blue2}{blue3}{CAMPUS JANAÚBA -- ORGANOGRAMA DE PESSOAS}\end{scope}
\begin{scope}[xshift=643pt]\Camp{cc}{org1}{org2}{org3}{CAMPUS UNAÍ -- ORGANOGRAMA DE PESSOAS}\end{scope}
% all connectors, behind the boxes
\begin{pgfonlayer}{bg}\allc\end{pgfonlayer}
\end{tikzpicture}
\end{document}
